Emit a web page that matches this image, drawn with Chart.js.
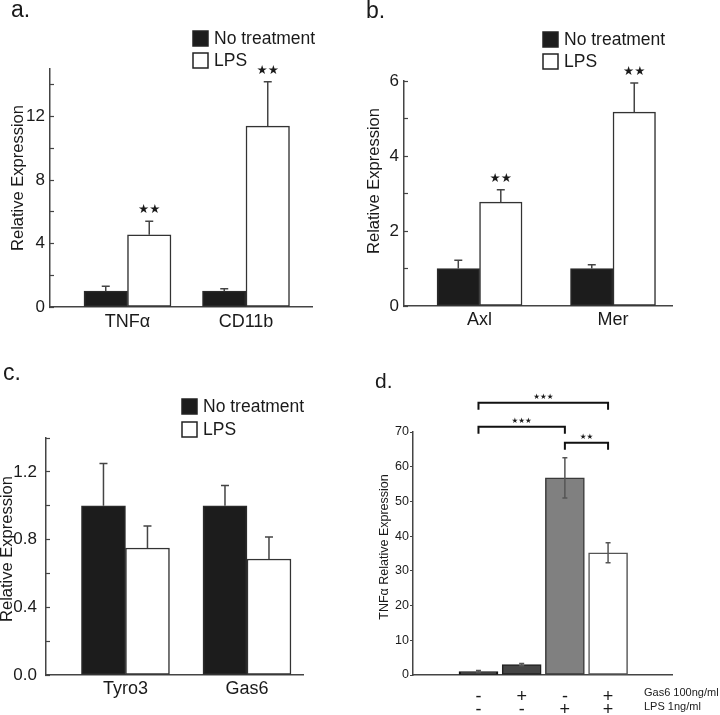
<!DOCTYPE html>
<html>
<head>
<meta charset="utf-8">
<script src="https://cdn.jsdelivr.net/npm/chart.js@4.4.1/dist/chart.umd.min.js"></script>
<style>
body { margin: 0; background: #fff; width: 720px; height: 715px; position: relative; overflow: hidden; }
canvas { position: absolute; }
</style>
</head>
<body>
<canvas id="chartA" width="360" height="357" style="left:0;top:0"></canvas>
<canvas id="chartB" width="360" height="357" style="left:360px;top:0"></canvas>
<canvas id="chartC" width="360" height="358" style="left:0;top:357px"></canvas>
<canvas id="chartD" width="360" height="358" style="left:360px;top:357px"></canvas>
<script>
// panel a
var aCategories = ['TNFα', 'CD11b'];
var aNoTreat = [1.0, 1.0];
var aNoTreatErr = [0.3, 0.15];
var aLps = [4.55, 11.4];
var aLpsErr = [0.85, 2.8];
var aLpsStars = ['**', '**'];

// panel b
var bCategories = ['Axl', 'Mer'];
var bNoTreat = [1.0, 1.0];
var bNoTreatErr = [0.22, 0.1];
var bLps = [2.77, 5.17];
var bLpsErr = [0.33, 0.78];
var bLpsStars = ['**', '**'];

// panel c
var cCategories = ['Tyro3', 'Gas6'];
var cNoTreat = [1.0, 1.0];
var cNoTreatErr = [0.25, 0.12];
var cLps = [0.75, 0.685];
var cLpsErr = [0.13, 0.13];

// panel d
var dGas6 = ['-', '+', '-', '+'];
var dLps = ['-', '-', '+', '+'];
var dValues = [1.0, 3.0, 56.8, 35.2];
var dErr = [0.3, 0.3, 5.8, 2.9];
// [from bar, to bar, height, label]
var dBrackets = [[0, 3, 78.4, '***'], [0, 2, 71.5, '***'], [2, 3, 66.9, '**']];

var fontFamily = "'Liberation Sans', Arial, Helvetica, sans-serif";
var textColor = '#1a1a1a';
var axisColor = '#444';

function starText(s) {
    return s.replace(/\*/g, '\u2605');
}

function toPoints(values) {
    return values.map(function (v, i) { return {x: i, y: v}; });
}

var annotate = {
    id: 'annotate',
    afterDatasetsDraw: function (chart) {
        var p = chart.options.plugins.annotate;
        var ctx = chart.ctx;
        var ys = chart.scales.y;
        ctx.save();
        chart.data.datasets.forEach(function (ds, di) {
            var meta = chart.getDatasetMeta(di);
            meta.data.forEach(function (bar, i) {
                var v = ds.data[i].y, e = ds.errors[i];
                var top = ys.getPixelForValue(v + e);
                var bottom = p.twoSided ? ys.getPixelForValue(v - e) : bar.y;
                ctx.strokeStyle = p.errColor;
                ctx.lineWidth = 1.5;
                ctx.beginPath();
                ctx.moveTo(bar.x, bottom);
                ctx.lineTo(bar.x, top);
                ctx.moveTo(bar.x - p.cap, top);
                ctx.lineTo(bar.x + p.cap, top);
                if (p.twoSided) {
                    ctx.moveTo(bar.x - p.cap, bottom);
                    ctx.lineTo(bar.x + p.cap, bottom);
                }
                ctx.stroke();
                if (ds.stars && ds.stars[i]) {
                    ctx.fillStyle = textColor;
                    ctx.font = p.starFont + 'px ' + "'DejaVu Sans', sans-serif";
                    ctx.textAlign = 'center';
                    ctx.textBaseline = 'alphabetic';
                    ctx.fillText(starText(ds.stars[i]), bar.x, top - p.starGap);
                }
            });
        });
        ctx.restore();
    },
    afterDraw: function (chart) {
        var p = chart.options.plugins.annotate;
        var ctx = chart.ctx;
        var xs = chart.scales.x, ys = chart.scales.y;
        ctx.save();
        ctx.fillStyle = textColor;

        // panel letter
        ctx.font = p.letter.size + 'px ' + fontFamily;
        ctx.textAlign = 'left';
        ctx.textBaseline = 'alphabetic';
        ctx.fillText(p.letter.text, p.letter.x, p.letter.y);

        // y title
        ctx.save();
        ctx.translate(p.yTitle.x, p.yTitle.y);
        ctx.rotate(-Math.PI / 2);
        ctx.font = p.yTitle.size + 'px ' + fontFamily;
        ctx.textAlign = 'center';
        ctx.textBaseline = 'middle';
        ctx.fillText(p.yTitle.text, 0, 0);
        ctx.restore();

        // legend
        if (p.legend) {
            var lg = p.legend;
            chart.data.datasets.forEach(function (ds, di) {
                var y0 = lg.y + di * lg.step;
                ctx.fillStyle = ds.backgroundColor;
                ctx.fillRect(lg.x, y0, lg.box, lg.box);
                ctx.strokeStyle = '#222';
                ctx.lineWidth = 1.5;
                ctx.strokeRect(lg.x, y0, lg.box, lg.box);
                ctx.fillStyle = textColor;
                ctx.font = lg.size + 'px ' + fontFamily;
                ctx.textAlign = 'left';
                ctx.textBaseline = 'middle';
                ctx.fillText(ds.label, lg.x + lg.box + 6, y0 + lg.box / 2 + 1);
            });
        }

        // significance brackets
        if (p.brackets) {
            p.brackets.forEach(function (b) {
                var x1 = xs.getPixelForValue(b[0]), x2 = xs.getPixelForValue(b[1]);
                var y = ys.getPixelForValue(b[2]);
                ctx.strokeStyle = '#111';
                ctx.lineWidth = 2;
                ctx.beginPath();
                ctx.moveTo(x1, y + p.legLen);
                ctx.lineTo(x1, y);
                ctx.lineTo(x2, y);
                ctx.lineTo(x2, y + p.legLen);
                ctx.stroke();
                ctx.fillStyle = textColor;
                ctx.font = p.starFont + 'px ' + "'DejaVu Sans', sans-serif";
                ctx.textAlign = 'center';
                ctx.textBaseline = 'alphabetic';
                ctx.fillText(starText(b[3]), (x1 + x2) / 2, y - 4);
            });
        }

        // row names under the axis
        if (p.rowNames) {
            ctx.font = p.rowNames.size + 'px ' + fontFamily;
            ctx.textAlign = 'left';
            ctx.textBaseline = 'middle';
            p.rowNames.text.forEach(function (t, i) {
                ctx.fillText(t, p.rowNames.x, p.rowNames.y + i * p.rowNames.step);
            });
        }
        ctx.restore();
    }
};

function makePanel(id, o) {
    return new Chart(document.getElementById(id), {
        type: 'bar',
        data: {datasets: o.datasets},
        options: {
            responsive: false,
            animation: false,
            events: [],
            layout: {padding: o.padding},
            datasets: {bar: {barThickness: o.barThickness, borderWidth: 1.5, borderSkipped: false}},
            plugins: {
                legend: {display: false},
                tooltip: {enabled: false},
                annotate: o.annotate
            },
            scales: {
                x: {
                    type: 'linear',
                    min: o.xMin,
                    max: o.xMax,
                    offset: false,
                    grid: {display: false, offset: false},
                    border: {color: axisColor, width: 1.5},
                    afterBuildTicks: function (s) {
                        s.ticks = o.xLabels.map(function (l, i) { return {value: i}; });
                    },
                    afterFit: function (s) { s.height = o.xHeight; },
                    ticks: {
                        autoSkip: false,
                        maxRotation: 0,
                        padding: o.xPad,
                        color: textColor,
                        font: o.xFont,
                        callback: function (v) { return o.xLabels[v]; }
                    }
                },
                y: {
                    min: 0,
                    max: o.yMax,
                    grid: {drawOnChartArea: false, tickLength: o.tickLength, color: axisColor, tickWidth: 1.2},
                    border: {color: axisColor, width: 1.5},
                    afterFit: function (s) { s.width = o.yWidth; },
                    ticks: {
                        stepSize: o.yStep,
                        includeBounds: false,
                        padding: o.yPad,
                        color: textColor,
                        font: {family: fontFamily, size: o.yFontSize},
                        callback: o.yLabel
                    }
                }
            }
        },
        plugins: [annotate]
    });
}

function pairDatasets(noTreat, noTreatErr, lps, lpsErr, lpsStars) {
    return [{
        label: 'No treatment',
        data: toPoints(noTreat),
        errors: noTreatErr,
        backgroundColor: '#1c1c1c',
        borderColor: '#2a2a2a'
    }, {
        label: 'LPS',
        data: toPoints(lps),
        errors: lpsErr,
        stars: lpsStars,
        backgroundColor: '#ffffff',
        borderColor: '#333'
    }];
}

var catFont = {family: fontFamily, size: 18};

makePanel('chartA', {
    datasets: pairDatasets(aNoTreat, aNoTreatErr, aLps, aLpsErr, aLpsStars),
    padding: {left: 0, top: 69, right: 48, bottom: 0},
    yWidth: 50, xHeight: 50,
    xMin: -0.654, xMax: 1.557, xLabels: aCategories, xPad: -4, xFont: catFont,
    barThickness: 43.5,
    yMax: 15, yStep: 2, tickLength: -4, yPad: 9, yFontSize: 17,
    yLabel: function (v) { return v % 4 === 0 ? String(v) : ''; },
    annotate: {
        errColor: '#444', cap: 4, starFont: 12.5, starGap: 8,
        letter: {text: 'a.', x: 11, y: 17, size: 23},
        yTitle: {text: 'Relative Expression', x: 18, y: 178, size: 16.5},
        legend: {x: 193, y: 31, step: 22, box: 15, size: 17.5}
    }
});

makePanel('chartB', {
    datasets: pairDatasets(bNoTreat, bNoTreatErr, bLps, bLpsErr, bLpsStars),
    padding: {left: 0, top: 81, right: 48, bottom: 0},
    yWidth: 44, xHeight: 51,
    xMin: -0.566, xMax: 1.442, xLabels: bCategories, xPad: -5, xFont: catFont,
    barThickness: 42.5,
    yMax: 6, yStep: 1, tickLength: -4, yPad: 9, yFontSize: 17,
    yLabel: function (v) { return v % 2 === 0 ? String(v) : ''; },
    annotate: {
        errColor: '#444', cap: 4, starFont: 12.5, starGap: 8,
        letter: {text: 'b.', x: 6, y: 18, size: 23},
        yTitle: {text: 'Relative Expression', x: 14, y: 181, size: 16.5},
        legend: {x: 183, y: 32, step: 22, box: 15, size: 17.5}
    }
});

makePanel('chartC', {
    datasets: pairDatasets(cNoTreat, cNoTreatErr, cLps, cLpsErr, null),
    padding: {left: 0, top: 81, right: 57, bottom: 0},
    yWidth: 46, xHeight: 40,
    xMin: -0.654, xMax: 1.461, xLabels: cCategories, xPad: -5, xFont: catFont,
    barThickness: 44,
    yMax: 1.4, yStep: 0.2, tickLength: -4, yPad: 13, yFontSize: 17,
    yLabel: function (v) { return Math.round(v * 10) % 4 === 0 ? v.toFixed(1) : ''; },
    annotate: {
        errColor: '#444', cap: 4, starFont: 12.5, starGap: 8,
        letter: {text: 'c.', x: 3, y: 23, size: 23},
        yTitle: {text: 'Relative Expression', x: 7, y: 192, size: 16.5},
        legend: {x: 182, y: 42, step: 23, box: 15, size: 17.5}
    }
});

makePanel('chartD', {
    datasets: [{
        label: 'TNFα',
        data: toPoints(dValues),
        errors: dErr,
        backgroundColor: ['#1e1e1e', '#454545', '#808080', '#ffffff'],
        borderColor: ['#111', '#222', '#3a3a3a', '#555']
    }],
    padding: {left: 0, top: 75, right: 48, bottom: 0},
    yWidth: 53, xHeight: 40,
    xMin: -1.516, xMax: 4.48,
    xLabels: dGas6.map(function (g, i) { return [g, dLps[i]]; }),
    xPad: 7, xFont: {family: fontFamily, size: 18, lineHeight: '13.5px'},
    barThickness: 39,
    yMax: 70, yStep: 5, tickLength: 3, yPad: 1, yFontSize: 12.5,
    yLabel: function (v) { return v % 10 === 0 ? String(v) : ''; },
    annotate: {
        errColor: '#555', cap: 2.5, twoSided: true,
        starFont: 7.5, legLen: 7,
        letter: {text: 'd.', x: 15, y: 31, size: 21},
        yTitle: {text: 'TNFα Relative Expression', x: 25, y: 190, size: 12.5},
        brackets: dBrackets,
        rowNames: {text: ['Gas6 100ng/ml', 'LPS 1ng/ml'], x: 284, y: 336, step: 14, size: 11}
    }
});
</script>
</body>
</html>
